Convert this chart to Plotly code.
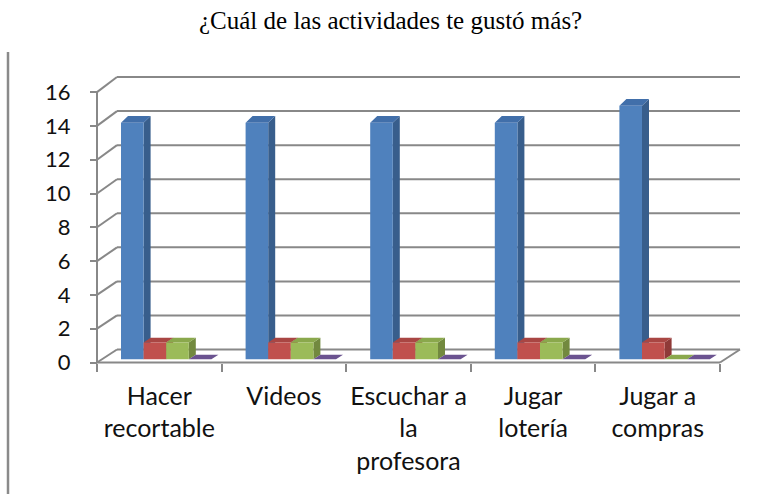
import plotly.graph_objects as go

# ---- data -------------------------------------------------------------
categories = [
    "Hacer<br>recortable",
    "Videos",
    "Escuchar a<br>la<br>profesora",
    "Jugar<br>lotería",
    "Jugar a<br>compras",
]
serie_1 = [14, 14, 14, 14, 15]
serie_2 = [1, 1, 1, 1, 1]
serie_3 = [1, 1, 1, 1, 0]
serie_4 = [0, 0, 0, 0, 0]
series_names = ["Serie 1", "Serie 2", "Serie 3", "Serie 4"]
y_ticks = [0, 2, 4, 6, 8, 10, 12, 14, 16]
title_text = "¿Cuál de las actividades te gustó más?"

# face colours per series: (front, side, top)
face_colors = [
    ("#4F81BD", "#385E8C", "#416FAA"),
    ("#C0504D", "#8F3A38", "#A94643"),
    ("#9BBB59", "#72893F", "#8AA84C"),
    ("#8064A2", "#5E4A78", "#6B5390"),
]

# ---- geometry of the pseudo-3D frame ---------------------------------
W, H = 777, 494
PX_PER_CAT = 124.6          # pixels per category slot
PX_PER_VAL = 16.9           # pixels per value unit (front plane)
AXIS_X_PX = 97.0            # front vertical axis
FLOOR_Y_PX = 362.5          # front floor edge


def ux(px):
    return px / PX_PER_CAT


def uy(px):
    return px / PX_PER_VAL


x_range = [-0.5 - ux(AXIS_X_PX), -0.5 + ux(W - AXIS_X_PX)]
y_range = [-uy(H - FLOOR_Y_PX), uy(FLOOR_Y_PX)]

n_cat = len(categories)
left_edge, right_edge = -0.5, n_cat - 0.5

WALL_DX = ux(20)                       # depth of the box (x shift)
WALL_LIFT = uy(13)                     # depth of the box (y shift at 0)
WALL_SCALE = 17.03 / PX_PER_VAL        # back wall slightly taller


def back_y(v):
    return v * WALL_SCALE + WALL_LIFT


CLUSTER_OFF = ux(24)
BAR_W = ux(22.6)
BAR_BASE = uy(3.2)
BAR_DX = ux(7)


def bar_dy(v):
    return uy(4.5 + 0.15 * v)


GRID = "#888888"
shapes = []
# back wall gridlines and the diagonals joining them to the front axis
for v in y_ticks:
    shapes.append(dict(type="line", xref="x", yref="y", layer="below",
                       x0=left_edge + WALL_DX, x1=right_edge + WALL_DX,
                       y0=back_y(v), y1=back_y(v),
                       line=dict(color=GRID, width=2)))
    shapes.append(dict(type="line", xref="x", yref="y", layer="below",
                       x0=left_edge, x1=left_edge + WALL_DX,
                       y0=v, y1=back_y(v),
                       line=dict(color=GRID, width=2)))
# front axis line
shapes.append(dict(type="line", xref="x", yref="y", layer="below",
                   x0=left_edge, x1=left_edge, y0=0, y1=max(y_ticks),
                   line=dict(color=GRID, width=2)))
# floor front edge and right diagonal
shapes.append(dict(type="line", xref="x", yref="y", layer="below",
                   x0=left_edge, x1=right_edge, y0=0, y1=0,
                   line=dict(color=GRID, width=2)))
shapes.append(dict(type="line", xref="x", yref="y", layer="below",
                   x0=right_edge, x1=right_edge + WALL_DX,
                   y0=0, y1=back_y(0),
                   line=dict(color=GRID, width=2)))
# page border line on the left
shapes.append(dict(type="line", xref="paper", yref="paper",
                   x0=8 / W, x1=8 / W, y0=0, y1=1 - 52 / H,
                   line=dict(color="#8A8A8A", width=2.5)))


def polys(values, j, kind):
    xs, ys = [], []
    for i, v in enumerate(values):
        xl = i - 0.5 + CLUSTER_OFF + j * BAR_W
        xr = xl + BAR_W
        b = BAR_BASE
        t = b + v
        d = bar_dy(v)
        if kind == "front":
            px = [xl, xr, xr, xl, xl]
            py = [b, b, t, t, b]
        elif kind == "side":
            px = [xr, xr + BAR_DX, xr + BAR_DX, xr, xr]
            py = [b, b + bar_dy(0), t + d, t, b]
        else:
            px = [xl, xr, xr + BAR_DX, xl + BAR_DX, xl]
            py = [t, t, t + d, t + d, t]
        xs += px + [None]
        ys += py + [None]
    return xs, ys


fig = go.Figure()
all_series = [serie_1, serie_2, serie_3, serie_4]
for j, vals in enumerate(all_series):
    front, side, top = face_colors[j]
    for kind, col in (("side", side), ("top", top), ("front", front)):
        xs, ys = polys(vals, j, kind)
        fig.add_trace(go.Scatter(
            x=xs, y=ys, mode="lines", fill="toself", fillcolor=col,
            line=dict(width=0, color=col), name=series_names[j],
            hoverinfo="skip", showlegend=False))

fig.update_layout(
    width=W, height=H,
    margin=dict(l=0, r=0, t=0, b=0),
    paper_bgcolor="white", plot_bgcolor="white",
    showlegend=False,
    shapes=shapes,
    xaxis=dict(
        range=x_range, anchor="free", position=1 - FLOOR_Y_PX / H,
        tickmode="array", tickvals=list(range(n_cat)), ticktext=categories,
        ticks="", showline=False, showgrid=False, zeroline=False,
        tickfont=dict(family="Lato", size=25, color="#111111"),
        ticklabelstandoff=16,
        minor=dict(tickmode="array",
                   tickvals=[k - 0.5 for k in range(n_cat + 1)],
                   ticks="outside", ticklen=8, tickwidth=2,
                   tickcolor=GRID, showgrid=False),
        fixedrange=True,
    ),
    yaxis=dict(
        range=y_range, anchor="free", position=AXIS_X_PX / W,
        tickmode="array", tickvals=y_ticks,
        ticks="outside", ticklen=7, tickwidth=2, tickcolor=GRID,
        showline=False, showgrid=False, zeroline=False,
        tickfont=dict(family="Lato", size=22, color="#111111"),
        ticklabelstandoff=15,
        fixedrange=True,
    ),
    annotations=[dict(
        text=title_text, xref="paper", yref="paper",
        x=390 / W, y=1 - 5 / H, xanchor="center", yanchor="top",
        showarrow=False,
        font=dict(family="Liberation Serif", size=25, color="#000000"),
    )],
)

fig.write_html("out.html")
